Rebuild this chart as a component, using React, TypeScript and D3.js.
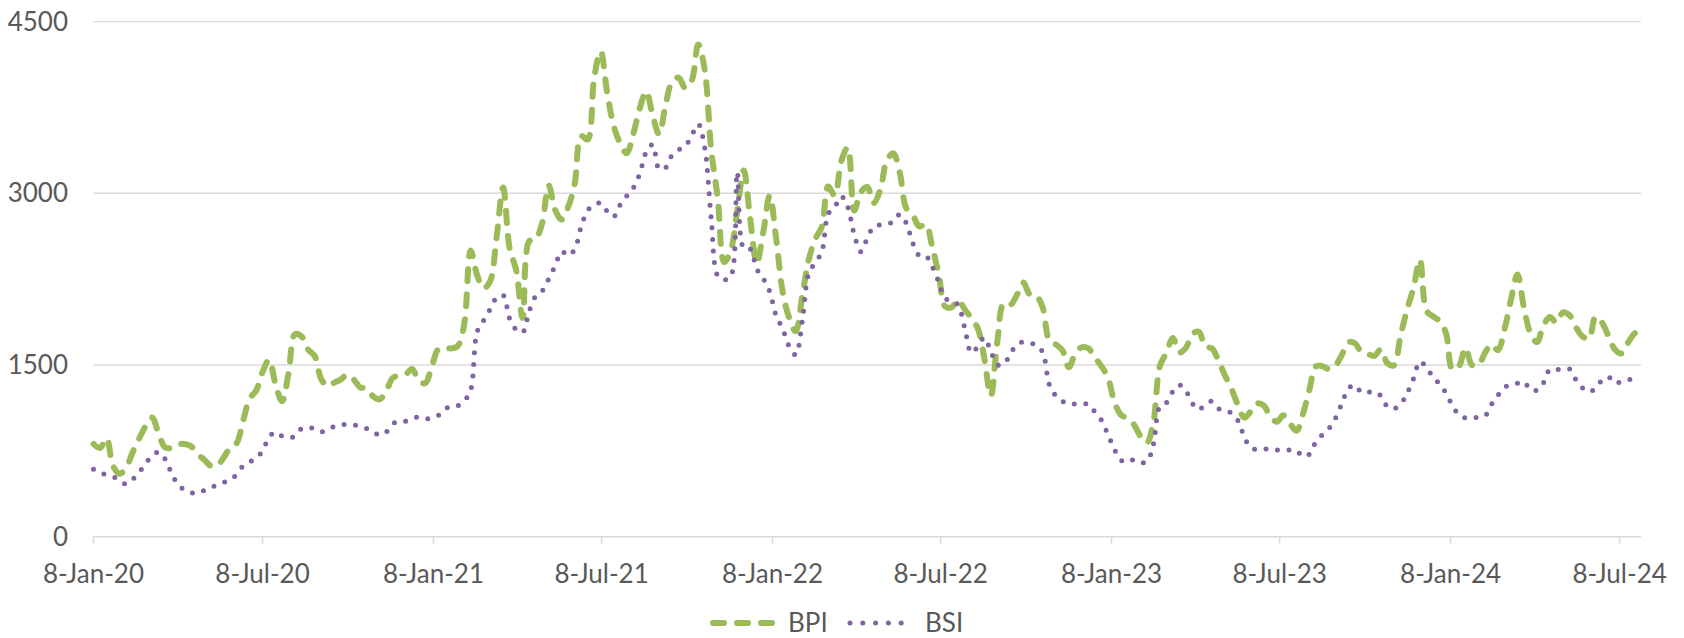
import { useEffect, useRef } from "react";
import * as d3 from "d3";

// weekly readings, every Wednesday from 8-Jan-2020
const startDate = "2020-01-08";

const bpiValues = [
  810, 775, 860, 620, 550, 600, 735, 855, 965, 1040,
  905, 780, 775, 805, 810, 790, 720, 675, 620, 620,
  690, 775, 815, 1010, 1205, 1275, 1440, 1545, 1330, 1185,
  1430, 1770, 1750, 1635, 1580, 1380, 1315, 1345, 1372, 1415,
  1375, 1305, 1296, 1225, 1200, 1270, 1385, 1410, 1418, 1465,
  1365, 1340, 1480, 1635, 1650, 1645, 1665, 1850, 2500, 2285,
  2170, 2232, 2620, 3050, 2520, 2330, 1910, 2580, 2600, 2740,
  3070, 2854, 2770, 2880, 3080, 3500, 3470, 4010, 4240, 3880,
  3590, 3437, 3350, 3515, 3740, 3890, 3680, 3515, 3780, 3975,
  4010, 3920, 3985, 4300, 4080, 3380, 2960, 2400, 2500, 2845,
  3200, 2780, 2390, 2660, 2980, 2600, 2135, 1910, 1795, 2100,
  2420, 2600, 2705, 3060, 2980, 3280, 3400, 2850, 3010, 3055,
  2915, 3030, 3285, 3350, 3180, 2870, 2810, 2710, 2730, 2530,
  2290, 2010, 2005, 2070, 1985, 1910, 1820, 1560, 1230, 1700,
  2040, 2025, 2110, 2220, 2115, 2105, 2000, 1715, 1680, 1630,
  1480, 1600, 1655, 1646, 1565, 1490, 1392, 1180, 1065, 1035,
  980, 880, 820, 1000, 1490, 1605, 1735, 1610, 1650, 1770,
  1790, 1660, 1645, 1540, 1410, 1295, 1150, 1040, 1097, 1165,
  1145, 1048, 1005, 1060, 990, 925, 1070, 1285, 1488, 1490,
  1464, 1495, 1590, 1700, 1690, 1614, 1596, 1580, 1637, 1515,
  1497, 1750, 1980, 2170, 2420, 1975, 1925, 1885, 1780, 1460,
  1488, 1650, 1500, 1500, 1605, 1680, 1630, 1810, 2070, 2290,
  2000, 1777, 1700, 1845, 1920, 1870, 1960, 1935, 1830, 1750,
  1730, 1922, 1870, 1752, 1635, 1600, 1695, 1775, 1820,
];

const bsiValues = [
  590, 560, 540, 525, 495, 460, 500, 560, 640, 705,
  740, 680, 555, 455, 408, 385, 380, 403, 428, 453,
  475, 500, 542, 618, 652, 685, 750, 870, 915, 880,
  867, 878, 945, 950, 946, 918, 930, 963, 975, 981,
  975, 965, 946, 915, 888, 912, 985, 1008, 1009, 1033,
  1045, 1031, 1036, 1058, 1115, 1138, 1143, 1185, 1280, 1790,
  1890, 1987, 2090, 2110, 1905, 1810, 1785, 1970, 2100, 2145,
  2250, 2365, 2492, 2457, 2510, 2708, 2850, 2900, 2915, 2842,
  2795, 2900, 2975, 3045, 3170, 3360, 3425, 3212, 3225, 3335,
  3380, 3410, 3505, 3605, 3400, 2780, 2280, 2245, 2270, 3186,
  2519, 2514, 2340, 2255, 2140, 1928, 1815, 1660, 1590, 1880,
  2300, 2395, 2488, 2820, 2880, 2975, 2880, 2640, 2490, 2608,
  2710, 2725, 2735, 2750, 2815, 2740, 2565, 2457, 2455, 2359,
  2225, 2079, 2066, 2020, 1822, 1607, 1662, 1740, 1620, 1502,
  1508, 1596, 1680, 1700, 1690, 1673, 1610, 1330, 1230, 1185,
  1159, 1159, 1159, 1159, 1090, 1020, 895, 765, 670, 650,
  673, 650, 655, 805, 1137, 1170, 1270, 1325, 1275, 1165,
  1110, 1159, 1182, 1120, 1100, 1080, 1015, 870, 775, 763,
  768, 761, 757, 757, 757, 752, 700, 720, 830, 890,
  945, 1035, 1165, 1295, 1325, 1261, 1261, 1268, 1230, 1136,
  1118, 1157, 1250, 1380, 1530, 1480, 1395, 1335, 1255, 1145,
  1065, 1037, 1037, 1045, 1055, 1155, 1235, 1305, 1327, 1340,
  1355, 1282, 1280, 1345, 1463, 1460, 1462, 1465, 1370, 1300,
  1265, 1296, 1367, 1395, 1340, 1355, 1370, 1380, 1388,
];

const xTickDates = [
  "2020-01-08", "2020-07-08", "2021-01-08", "2021-07-08", "2022-01-08",
  "2022-07-08", "2023-01-08", "2023-07-08", "2024-01-08", "2024-07-08",
];
const yTickValues = [0, 1500, 3000, 4500];
const seriesNames = ["BPI", "BSI"];

const App = () => {
  const svgRef = useRef(null);

  useEffect(() => {
    const width = 1684;
    const height = 638;
    const left = 93.5;
    const right = 1641;
    const top = 21.6;
    const bottom = 536.7;
    const font = "Lato, 'Open Sans', sans-serif";
    const textColor = "#595959";
    const grid = "#d9d9d9";

    const parse = d3.utcParse("%Y-%m-%d");
    const start = parse(startDate);
    const dates = bpiValues.map((_, i) => d3.utcDay.offset(start, i * 7));

    const svg = d3.select(svgRef.current);
    svg.selectAll("*").remove();
    svg.attr("width", width).attr("height", height);

    const x = d3
      .scaleUtc()
      .domain([dates[0], dates[dates.length - 1]])
      .range([left, right]);

    const y = d3.scaleLinear().domain([0, 4500]).range([bottom, top]);

    // grade horizontal
    svg
      .append("g")
      .selectAll("line")
      .data(yTickValues)
      .enter()
      .append("line")
      .attr("x1", left)
      .attr("x2", right)
      .attr("y1", (d) => y(d))
      .attr("y2", (d) => y(d))
      .attr("stroke", grid)
      .attr("stroke-width", 1.4);

    svg
      .append("g")
      .selectAll("text")
      .data(yTickValues)
      .enter()
      .append("text")
      .attr("x", 68)
      .attr("y", (d) => y(d))
      .attr("dy", "0.35em")
      .attr("text-anchor", "end")
      .attr("font-family", font)
      .attr("font-size", 26)
      .attr("fill", textColor)
      .text((d) => d);

    // eixo x
    const xTicks = xTickDates.map((d) => parse(d));
    const fmt = d3.utcFormat("%-d-%b-%y");
    const xg = svg.append("g");
    xg.selectAll("line")
      .data(xTicks)
      .enter()
      .append("line")
      .attr("x1", (d) => x(d))
      .attr("x2", (d) => x(d))
      .attr("y1", bottom)
      .attr("y2", bottom + 7)
      .attr("stroke", grid)
      .attr("stroke-width", 1.4);
    xg.selectAll("text")
      .data(xTicks)
      .enter()
      .append("text")
      .attr("x", (d) => x(d))
      .attr("y", 583)
      .attr("text-anchor", "middle")
      .attr("font-family", font)
      .attr("font-size", 26)
      .attr("fill", textColor)
      .text((d) => fmt(d));

    const line = d3
      .line<number>()
      .curve(d3.curveCatmullRom.alpha(0.5))
      .x((_, i) => x(dates[i]))
      .y((d) => y(d));

    const styles = [
      { color: "#9bbb59", width: 6, dash: "12 13", values: bpiValues },
      { color: "#8064a2", width: 5, dash: "0 11.5", values: bsiValues },
    ];

    styles.forEach((s) => {
      svg
        .append("path")
        .datum(s.values)
        .attr("fill", "none")
        .attr("stroke", s.color)
        .attr("stroke-width", s.width)
        .attr("stroke-dasharray", s.dash)
        .attr("stroke-linecap", "round")
        .attr("stroke-linejoin", "round")
        .attr("d", line);
    });

    // legenda
    const legendY = 623;
    const legend = [
      { x0: 713, x1: 777, tx: 788, dash: "11 13" },
      { x0: 850, x1: 914, tx: 925, dash: "0 12.8" },
    ];
    legend.forEach((l, i) => {
      svg
        .append("line")
        .attr("x1", l.x0)
        .attr("x2", l.x1)
        .attr("y1", legendY)
        .attr("y2", legendY)
        .attr("stroke", styles[i].color)
        .attr("stroke-width", styles[i].width)
        .attr("stroke-dasharray", l.dash)
        .attr("stroke-linecap", "round");
      svg
        .append("text")
        .attr("x", l.tx)
        .attr("y", legendY)
        .attr("dy", "0.35em")
        .attr("font-family", font)
        .attr("font-size", 26)
        .attr("fill", textColor)
        .text(seriesNames[i]);
    });
  }, []);

  return (
    <svg
      ref={svgRef}
      width={1684}
      height={638}
      style={{ position: "absolute", left: 0, top: 0, background: "#fff" }}
    ></svg>
  );
};

export default App;
